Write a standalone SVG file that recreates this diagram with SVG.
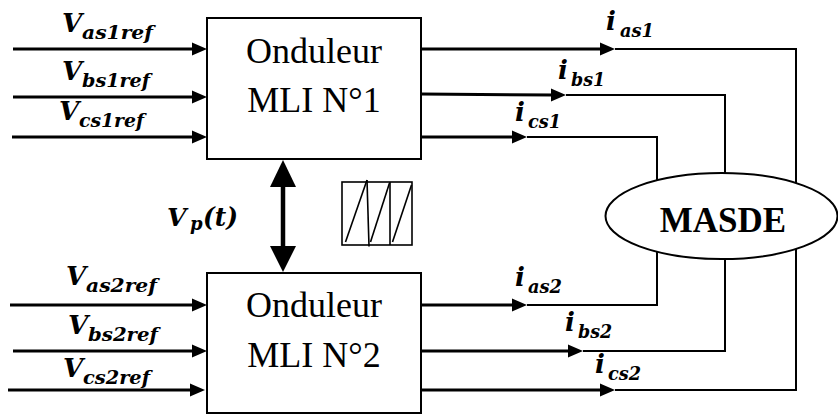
<svg xmlns="http://www.w3.org/2000/svg" width="838" height="414" viewBox="0 0 838 414">
<style>
.box{fill:#fff;stroke:#000;stroke-width:2}
.ln{stroke:#000;stroke-width:2;fill:none}
.lt{stroke:#000;stroke-width:3;fill:none}
.ah{fill:#000}
</style>
<defs>
<polygon id="ah" points="0,0 -15,-6.5 -15,6.5"/>
</defs>
<rect width="838" height="414" fill="#fff"/>
<g id="connectors">
  <line class="lt" x1="13" y1="49" x2="195" y2="49"/><use href="#ah" x="207" y="49"/>
  <line class="lt" x1="13" y1="97" x2="195" y2="97"/><use href="#ah" x="207" y="97"/>
  <line class="lt" x1="12" y1="137" x2="195" y2="137"/><use href="#ah" x="207" y="137"/>
  <line class="lt" x1="10" y1="305" x2="195" y2="305"/><use href="#ah" x="207" y="305"/>
  <line class="lt" x1="13" y1="351" x2="195" y2="351"/><use href="#ah" x="207" y="351"/>
  <line class="lt" x1="8" y1="390" x2="195" y2="390"/><use href="#ah" x="205" y="390"/>
  <line class="lt" x1="421" y1="49" x2="603" y2="49"/><use href="#ah" x="615" y="49"/>
  <polyline class="ln" points="615,49 796,49 796,390 615,390"/>
  <line class="lt" x1="421" y1="94" x2="554" y2="95"/><use href="#ah" x="566" y="95"/>
  <polyline class="ln" points="566,95 725,95 725,351 583,351"/>
  <line class="lt" x1="421" y1="137" x2="515" y2="137"/><use href="#ah" x="527" y="137"/>
  <polyline class="ln" points="527,137 657,137 657,305 527,305"/>
  <line class="lt" x1="421" y1="305" x2="515" y2="305"/><use href="#ah" x="527" y="305"/>
  <line class="lt" x1="421" y1="351" x2="571" y2="351"/><use href="#ah" x="583" y="351"/>
  <line class="lt" x1="421" y1="390" x2="603" y2="390"/><use href="#ah" x="615" y="390"/>
  <line x1="283" y1="185" x2="283" y2="247" stroke="#000" stroke-width="4.5"/>
  <polygon class="ah" points="283,160 270,187 296,187"/>
  <polygon class="ah" points="283,272 270,246 296,246"/>
</g>
<g id="box1" font-family="Liberation Serif, Times New Roman, serif" font-size="36" text-anchor="middle">
  <rect class="box" x="207" y="18" width="214" height="141"/>
  <text x="314" y="63">Onduleur</text>
  <text x="314" y="112">MLI N°1</text>
</g>
<g id="box2" font-family="Liberation Serif, Times New Roman, serif" font-size="36" text-anchor="middle">
  <rect class="box" x="207" y="273" width="214" height="140"/>
  <text x="314" y="317">Onduleur</text>
  <text x="314" y="367">MLI N°2</text>
</g>
<g id="masde">
  <ellipse cx="721.5" cy="216" rx="116" ry="43" fill="#fff" stroke="#000" stroke-width="2"/>
  <text x="723" y="232" font-family="Liberation Serif, serif" font-size="35" font-weight="bold" text-anchor="middle">MASDE</text>
</g>
<g id="sawtooth" stroke="#000" stroke-width="1.6" fill="none">
  <rect x="342" y="182" width="70" height="63"/>
  <line x1="345.5" y1="242" x2="367" y2="180"/>
  <line x1="367" y1="180" x2="369" y2="246.5"/>
  <line x1="370.5" y1="242" x2="389.5" y2="183"/>
  <line x1="390" y1="182" x2="390" y2="245"/>
  <line x1="392.5" y1="242" x2="411.5" y2="185"/>
</g>
<g id="input-labels" font-family="DejaVu Serif, serif" font-style="italic" font-weight="bold">
  <text x="62" y="32" font-size="26">V</text><text x="82" y="39" font-size="19" textLength="71" lengthAdjust="spacingAndGlyphs">as1ref</text>
  <text x="62" y="80" font-size="26">V</text><text x="82" y="87" font-size="19" textLength="68" lengthAdjust="spacingAndGlyphs">bs1ref</text>
  <text x="59" y="120" font-size="26">V</text><text x="79" y="127" font-size="19" textLength="65" lengthAdjust="spacingAndGlyphs">cs1ref</text>
  <text x="66" y="285" font-size="26">V</text><text x="86" y="292" font-size="19" textLength="71" lengthAdjust="spacingAndGlyphs">as2ref</text>
  <text x="68" y="334" font-size="26">V</text><text x="88" y="341" font-size="19" textLength="70" lengthAdjust="spacingAndGlyphs">bs2ref</text>
  <text x="63" y="377" font-size="26">V</text><text x="83" y="384" font-size="19" textLength="67" lengthAdjust="spacingAndGlyphs">cs2ref</text>
</g>
<g id="vp-label" font-family="DejaVu Serif, serif" font-style="italic" font-weight="bold">
  <text x="167" y="226" font-size="25">V</text><text x="190" y="230" font-size="18">p</text><text x="203" y="226" font-size="26" textLength="35" lengthAdjust="spacingAndGlyphs">(t)</text>
</g>
<g id="output-labels" font-family="DejaVu Serif, serif" font-style="italic" font-weight="bold">
  <text x="606" y="30" font-size="26">i</text><text x="620" y="37" font-size="19" textLength="34" lengthAdjust="spacingAndGlyphs">as1</text>
  <text x="558" y="79" font-size="26">i</text><text x="571" y="86" font-size="19" textLength="34" lengthAdjust="spacingAndGlyphs">bs1</text>
  <text x="515" y="121" font-size="26">i</text><text x="528" y="128" font-size="19" textLength="33" lengthAdjust="spacingAndGlyphs">cs1</text>
  <text x="515" y="286" font-size="26">i</text><text x="528" y="293" font-size="19" textLength="34" lengthAdjust="spacingAndGlyphs">as2</text>
  <text x="565" y="331" font-size="26">i</text><text x="578" y="338" font-size="19" textLength="34" lengthAdjust="spacingAndGlyphs">bs2</text>
  <text x="595" y="373" font-size="26">i</text><text x="608" y="380" font-size="19" textLength="33" lengthAdjust="spacingAndGlyphs">cs2</text>
</g>
</svg>
